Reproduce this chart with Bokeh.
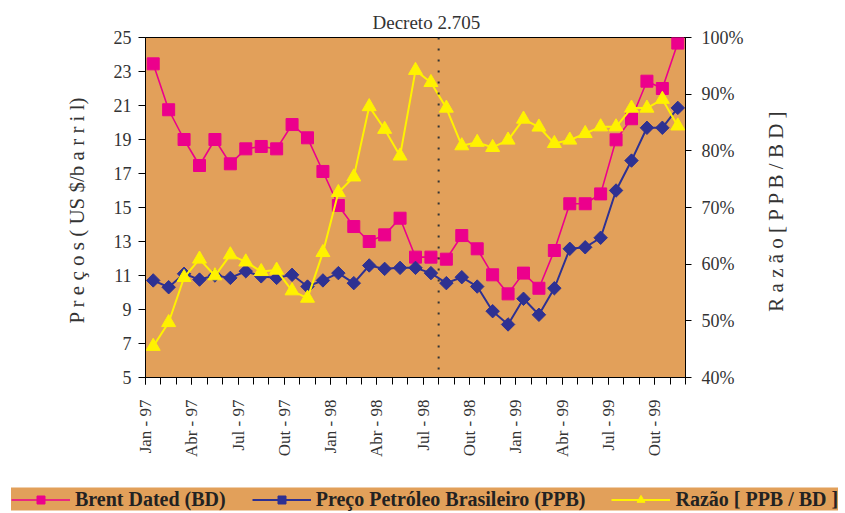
import math
from bokeh.plotting import figure
from bokeh.layouts import column, row
from bokeh.models import (Range1d, LinearAxis, FixedTicker, PrintfTickFormatter,
                          Span, Label, Legend, LegendItem, Title)
from bokeh.embed import file_html
from bokeh.resources import INLINE

# ---- data (Jan-97 .. Nov-99, monthly) ----
tick_labels = ["Jan - 97", "Abr - 97", "Jul - 97", "Out - 97",
               "Jan - 98", "Abr - 98", "Jul - 98", "Out - 98",
               "Jan - 99", "Abr - 99", "Jul - 99", "Out - 99"]

brent = [23.45, 20.75, 19.0, 17.47, 19.0, 17.57, 18.45, 18.59, 18.45, 19.88,
         19.1, 17.12, 15.12, 13.88, 13.0, 13.39, 14.37, 12.08, 12.08, 11.96,
         13.35, 12.57, 11.04, 9.92, 11.14, 10.25, 12.47, 15.22, 15.22, 15.8,
         18.98, 20.22, 22.43, 22.0, 24.67]

ppb = [10.71, 10.31, 11.1, 10.76, 11.0, 10.86, 11.25, 10.95, 10.86, 11.04,
       10.35, 10.71, 11.14, 10.55, 11.59, 11.39, 11.45, 11.45, 11.14, 10.55,
       10.90, 10.35, 8.9, 8.12, 9.63, 8.69, 10.25, 12.57, 12.66, 13.22,
       16.0, 17.76, 19.69, 19.69, 20.86]

ratio = [45.5, 49.7, 57.65, 60.9, 57.95, 61.65, 60.4, 58.7, 58.95, 55.3,
         54.0, 62.06, 72.65, 75.4, 87.8, 83.8, 79.1, 94.2, 92.06, 87.54,
         80.9, 81.5, 80.6, 81.9, 85.6, 84.2, 81.3, 81.9, 83.06, 84.24,
         84.24, 87.54, 87.54, 89.1, 84.4]

series_names = ["Brent Dated (BD)", "Preço Petróleo Brasileiro (PPB)",
                "Razão [ PPB / BD ]"]

decreto_month = 19  # boundary between Jul-98 and Ago-98

n = len(brent)
xs = [i + 0.5 for i in range(n)]

BG = "#E2A05A"
PINK = "#EC008C"
BLUE = "#2E3192"
YELLOW = "#FFF200"
SERIF = "Liberation Serif"
TXT = "#333333"

STY = {
    "brent_line": dict(line_color=PINK, line_width=1.6),
    "brent_mark": dict(marker="square", size=12, fill_color=PINK, line_color=PINK),
    "ppb_line": dict(line_color=BLUE, line_width=2),
    "ppb_mark": dict(marker="square", angle=math.pi / 4, size=9.5,
                     fill_color=BLUE, line_color=BLUE),
    "ratio_line": dict(line_color=YELLOW, line_width=2),
    "ratio_mark": dict(marker="triangle", size=14, fill_color=YELLOW, line_color=YELLOW),
}

# ---------------- main chart ----------------
p = figure(width=755, height=485, output_backend="svg", toolbar_location=None,
           x_range=Range1d(0, n), y_range=Range1d(5, 25),
           min_border_left=145, min_border_right=70,
           min_border_top=37, min_border_bottom=108,
           background_fill_color=BG, border_fill_color="white",
           outline_line_color="black", outline_line_width=1)
p.xgrid.visible = False
p.ygrid.visible = False

# left axis
p.yaxis.ticker = FixedTicker(ticks=list(range(5, 26, 2)), minor_ticks=[])
p.yaxis.axis_label = "P r e ç o s  ( US $/b a r r i l)"
p.yaxis.axis_label_text_font = SERIF
p.yaxis.axis_label_text_font_style = "normal"
p.yaxis.axis_label_text_font_size = "21px"
p.yaxis.axis_label_text_color = TXT
p.yaxis.axis_label_standoff = 22
p.yaxis.major_label_text_font = SERIF
p.yaxis.major_label_text_font_size = "18px"
p.yaxis.major_label_text_color = TXT
p.yaxis.major_tick_out = 7
p.yaxis.major_tick_in = 0
p.yaxis.major_label_standoff = 7
p.yaxis.axis_line_color = "black"
p.yaxis.major_tick_line_color = "black"

# x axis
label_pos = list(range(0, 34, 3))
p.xaxis.ticker = FixedTicker(ticks=label_pos, minor_ticks=list(range(0, n + 1)))
p.xaxis.major_label_overrides = {pos: lab for pos, lab in zip(label_pos, tick_labels)}
p.xaxis.major_label_orientation = math.pi / 2
p.xaxis.major_label_text_font = SERIF
p.xaxis.major_label_text_font_size = "17px"
p.xaxis.major_label_text_color = TXT
p.xaxis.major_tick_out = 7
p.xaxis.major_tick_in = 0
p.xaxis.minor_tick_out = 7
p.xaxis.minor_tick_in = 0
p.xaxis.major_label_standoff = 15
p.xaxis.axis_line_color = "black"
p.xaxis.major_tick_line_color = "black"
p.xaxis.minor_tick_line_color = "black"

# right axis
p.extra_y_ranges = {"ratio": Range1d(40, 100)}
rax = LinearAxis(y_range_name="ratio",
                 ticker=FixedTicker(ticks=list(range(40, 101, 10)), minor_ticks=[]),
                 formatter=PrintfTickFormatter(format="%d%%"))
rax.major_label_text_font = SERIF
rax.major_label_text_font_size = "18px"
rax.major_label_text_color = TXT
rax.major_tick_out = 6
rax.major_tick_in = 0
rax.major_label_standoff = 10
rax.axis_line_color = "black"
rax.major_tick_line_color = "black"
p.add_layout(rax, "right")

# decree line + caption
p.add_layout(Span(location=decreto_month, dimension="height", line_color="#333333",
                  line_width=2, line_dash="2 9"))
p.add_layout(Title(text="Decreto 2.705", align="left", offset=227, standoff=10,
                   text_font=SERIF, text_font_size="19px", text_font_style="normal",
                   text_color=TXT), "above")

# series
p.line(xs, brent, **STY["brent_line"])
p.scatter(xs, brent, **STY["brent_mark"])
p.line(xs, ppb, **STY["ppb_line"])
p.scatter(xs, ppb, **STY["ppb_mark"])
p.line(xs, ratio, y_range_name="ratio", **STY["ratio_line"])
p.scatter(xs, ratio, y_range_name="ratio", **STY["ratio_mark"])

# ---------------- right-axis title (reads bottom-to-top) ----------------
rfig = figure(width=90, height=485, output_backend="svg", toolbar_location=None,
              x_range=Range1d(0, 1), y_range=Range1d(0, 1), min_border=0,
              x_axis_type=None, y_axis_type=None, outline_line_color=None,
              background_fill_color="white", border_fill_color="white")
rfig.xgrid.visible = False
rfig.ygrid.visible = False
rfig.add_layout(Label(x=20, y=172, x_units="screen", y_units="screen",
                      angle=math.pi / 2, text="R a z ã o   [ P P B / B D ]",
                      text_align="center", text_baseline="middle",
                      text_font=SERIF, text_font_size="21px", text_color=TXT))

# ---------------- legend band ----------------
# same series, drawn in a view window that lies outside the data (only the legend shows)
lfig = figure(width=845, height=28, output_backend="svg", toolbar_location=None,
              x_range=Range1d(-10, -9), y_range=Range1d(0, 1), min_border=0,
              x_axis_type=None, y_axis_type=None, outline_line_color=None,
              background_fill_color="white", border_fill_color="white")
lfig.xgrid.visible = False
lfig.ygrid.visible = False
k1 = lfig.line(xs, brent, **STY["brent_line"])
m1 = lfig.scatter(xs, brent, **STY["brent_mark"])
k2 = lfig.line(xs, ppb, **STY["ppb_line"])
m2 = lfig.scatter(xs, ppb, **STY["ppb_mark"])
k3 = lfig.line(xs, ratio, **STY["ratio_line"])
m3 = lfig.scatter(xs, ratio, **STY["ratio_mark"])

legend = Legend(items=[
    LegendItem(label=series_names[0], renderers=[k1, m1]),
    LegendItem(label=series_names[1], renderers=[k2, m2]),
    LegendItem(label=series_names[2], renderers=[k3, m3]),
], location="left", orientation="horizontal",
    background_fill_color=BG, background_fill_alpha=1.0,
    border_line_color=None, glyph_width=59, glyph_height=20,
    label_standoff=5, spacing=26, padding=2, margin=11,
    label_text_font=SERIF, label_text_font_style="bold",
    label_text_font_size="20px", label_text_color="#222222")
lfig.add_layout(legend)

layout = column(row(p, rfig, spacing=0), lfig, spacing=0)

open("out.html", "w").write(file_html(layout, INLINE))
